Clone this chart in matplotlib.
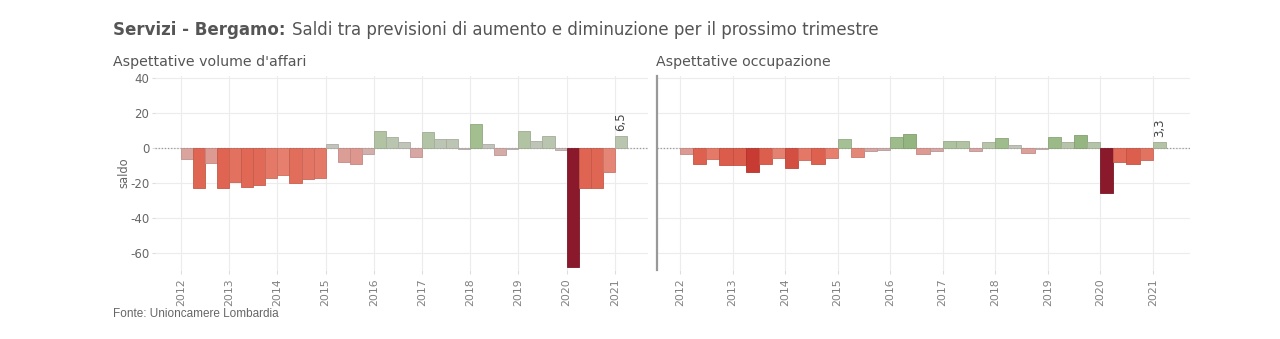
import numpy as np
import matplotlib; matplotlib.use("Agg")
import matplotlib.pyplot as plt
from matplotlib.colors import LinearSegmentedColormap, Normalize, to_rgb

plt.rcParams.update({"font.family": "DejaVu Sans", "axes.unicode_minus": False})

# quarterly series, 2012 Q1 .. 2021 Q1
affari = [-6.3, -22.8, -8.7, -23.3, -19.4, -22.4, -21.6, -17.1, -15.6, -20.5, -18.2, -17.6,
          1.9, -8.0, -9.1, -3.6, 9.3, 5.9, 3.2, -5.3, 8.7, 5.1, 5.1, -0.8,
          13.7, 1.9, -4.0, -0.6, 9.3, 3.8, 6.5, -1.3, -68.3, -23.1, -22.8, -14.2, 6.5]
occupazione = [-3.4, -9.3, -6.6, -9.9, -9.7, -14.2, -9.5, -5.7, -11.4, -6.8, -9.3, -5.9,
               4.7, -5.1, -1.9, -1.3, 5.9, 7.6, -3.4, -1.7, 4.0, 3.6, -1.9, 3.0,
               5.7, 1.3, -2.8, -0.8, 6.3, 3.0, 7.4, 3.2, -26.0, -8.3, -9.5, -7.2, 3.3]
quarters = 2012 + 0.25 * np.arange(len(affari))
years = list(range(2012, 2022))

GREY, TXT = "#666666", "#555555"
cmap = LinearSegmentedColormap.from_list("rg", [
    (0.0, "#8a1a2b"), (0.225, "#c73a31"), (0.325, "#de624f"), (0.385, "#e67f6e"),
    (0.44, "#dc9c95"), (0.47, "#d5aba8"), (0.5, "#c6c3c1"), (0.55, "#b9c5ae"),
    (0.6, "#a3bf90"), (0.65, "#93b47f"), (1.0, "#4f8a3c")])

fig = plt.figure(figsize=(12.8, 3.39), dpi=100)
fig.patch.set_facecolor("white")


def panel(rect, vals, xlim, last_lbl, show_y):
    ax = fig.add_axes(rect)
    m = max(abs(v) for v in vals)
    norm = Normalize(-m, m)
    cols = [cmap(norm(v)) for v in vals]
    edges = [tuple(c * 0.88 for c in to_rgb(col)) for col in cols]
    ax.bar(quarters, vals, width=0.25, align="edge", color=cols, edgecolor=edges,
           linewidth=0.6, zorder=3)
    ax.axhline(0, color="#999999", lw=0.9, ls=(0, (1, 1.5)), zorder=2)
    ax.set_xlim(*xlim)
    ax.set_ylim(-70, 41)
    ax.set_xticks(years)
    ax.set_xticklabels([str(y) for y in years], rotation=90, fontsize=7.8, color="#808080")
    ax.set_yticks([-60, -40, -20, 0, 20, 40])
    ax.grid(True, color="#ececec", lw=0.8, zorder=0)
    ax.tick_params(axis="x", length=3, color="#dddddd", pad=3)
    for s in ["top", "right", "bottom"]:
        ax.spines[s].set_visible(False)
    if show_y:
        ax.spines["left"].set_visible(False)
        ax.tick_params(axis="y", length=2, color="#dddddd", labelsize=8.5, labelcolor=GREY, pad=2)
        ax.set_ylabel("saldo", fontsize=8.3, color=GREY, labelpad=0)
    else:
        ax.spines["left"].set_color("#999999")
        ax.spines["left"].set_linewidth(1.6)
        ax.tick_params(axis="y", length=0, labelleft=False)
    ax.text(quarters[-1] + 0.125, vals[-1] + 3.0, last_lbl, rotation=90, ha="center",
            va="bottom", fontsize=8.5, color="#444444", zorder=4)
    return ax


panel([155 / 1280, 69 / 339, 493 / 1280, 194 / 339], affari, (2011.46, 2021.69), "6,5", True)
panel([657 / 1280, 69 / 339, 533 / 1280, 194 / 339], occupazione, (2011.56, 2021.71), "3,3", False)

fig.text(113 / 1280, 1 - 30 / 339, "Servizi - Bergamo:", fontsize=12, fontweight="bold",
         color=TXT, va="center", ha="left")
fig.text(292 / 1280, 1 - 30 / 339, "Saldi tra previsioni di aumento e diminuzione per il prossimo trimestre",
         fontsize=12, color=TXT, va="center", ha="left")
fig.text(113 / 1280, 1 - 62 / 339, "Aspettative volume d'affari", fontsize=10.2, color=TXT,
         va="center", ha="left")
fig.text(656 / 1280, 1 - 62 / 339, "Aspettative occupazione", fontsize=10.2, color=TXT,
         va="center", ha="left")
fig.text(113 / 1280, 1 - 314 / 339, "Fonte: Unioncamere Lombardia", fontsize=8.5,
         family="Liberation Sans", color=GREY, va="center", ha="left")

fig.savefig("out.png", dpi=100, facecolor="white")
